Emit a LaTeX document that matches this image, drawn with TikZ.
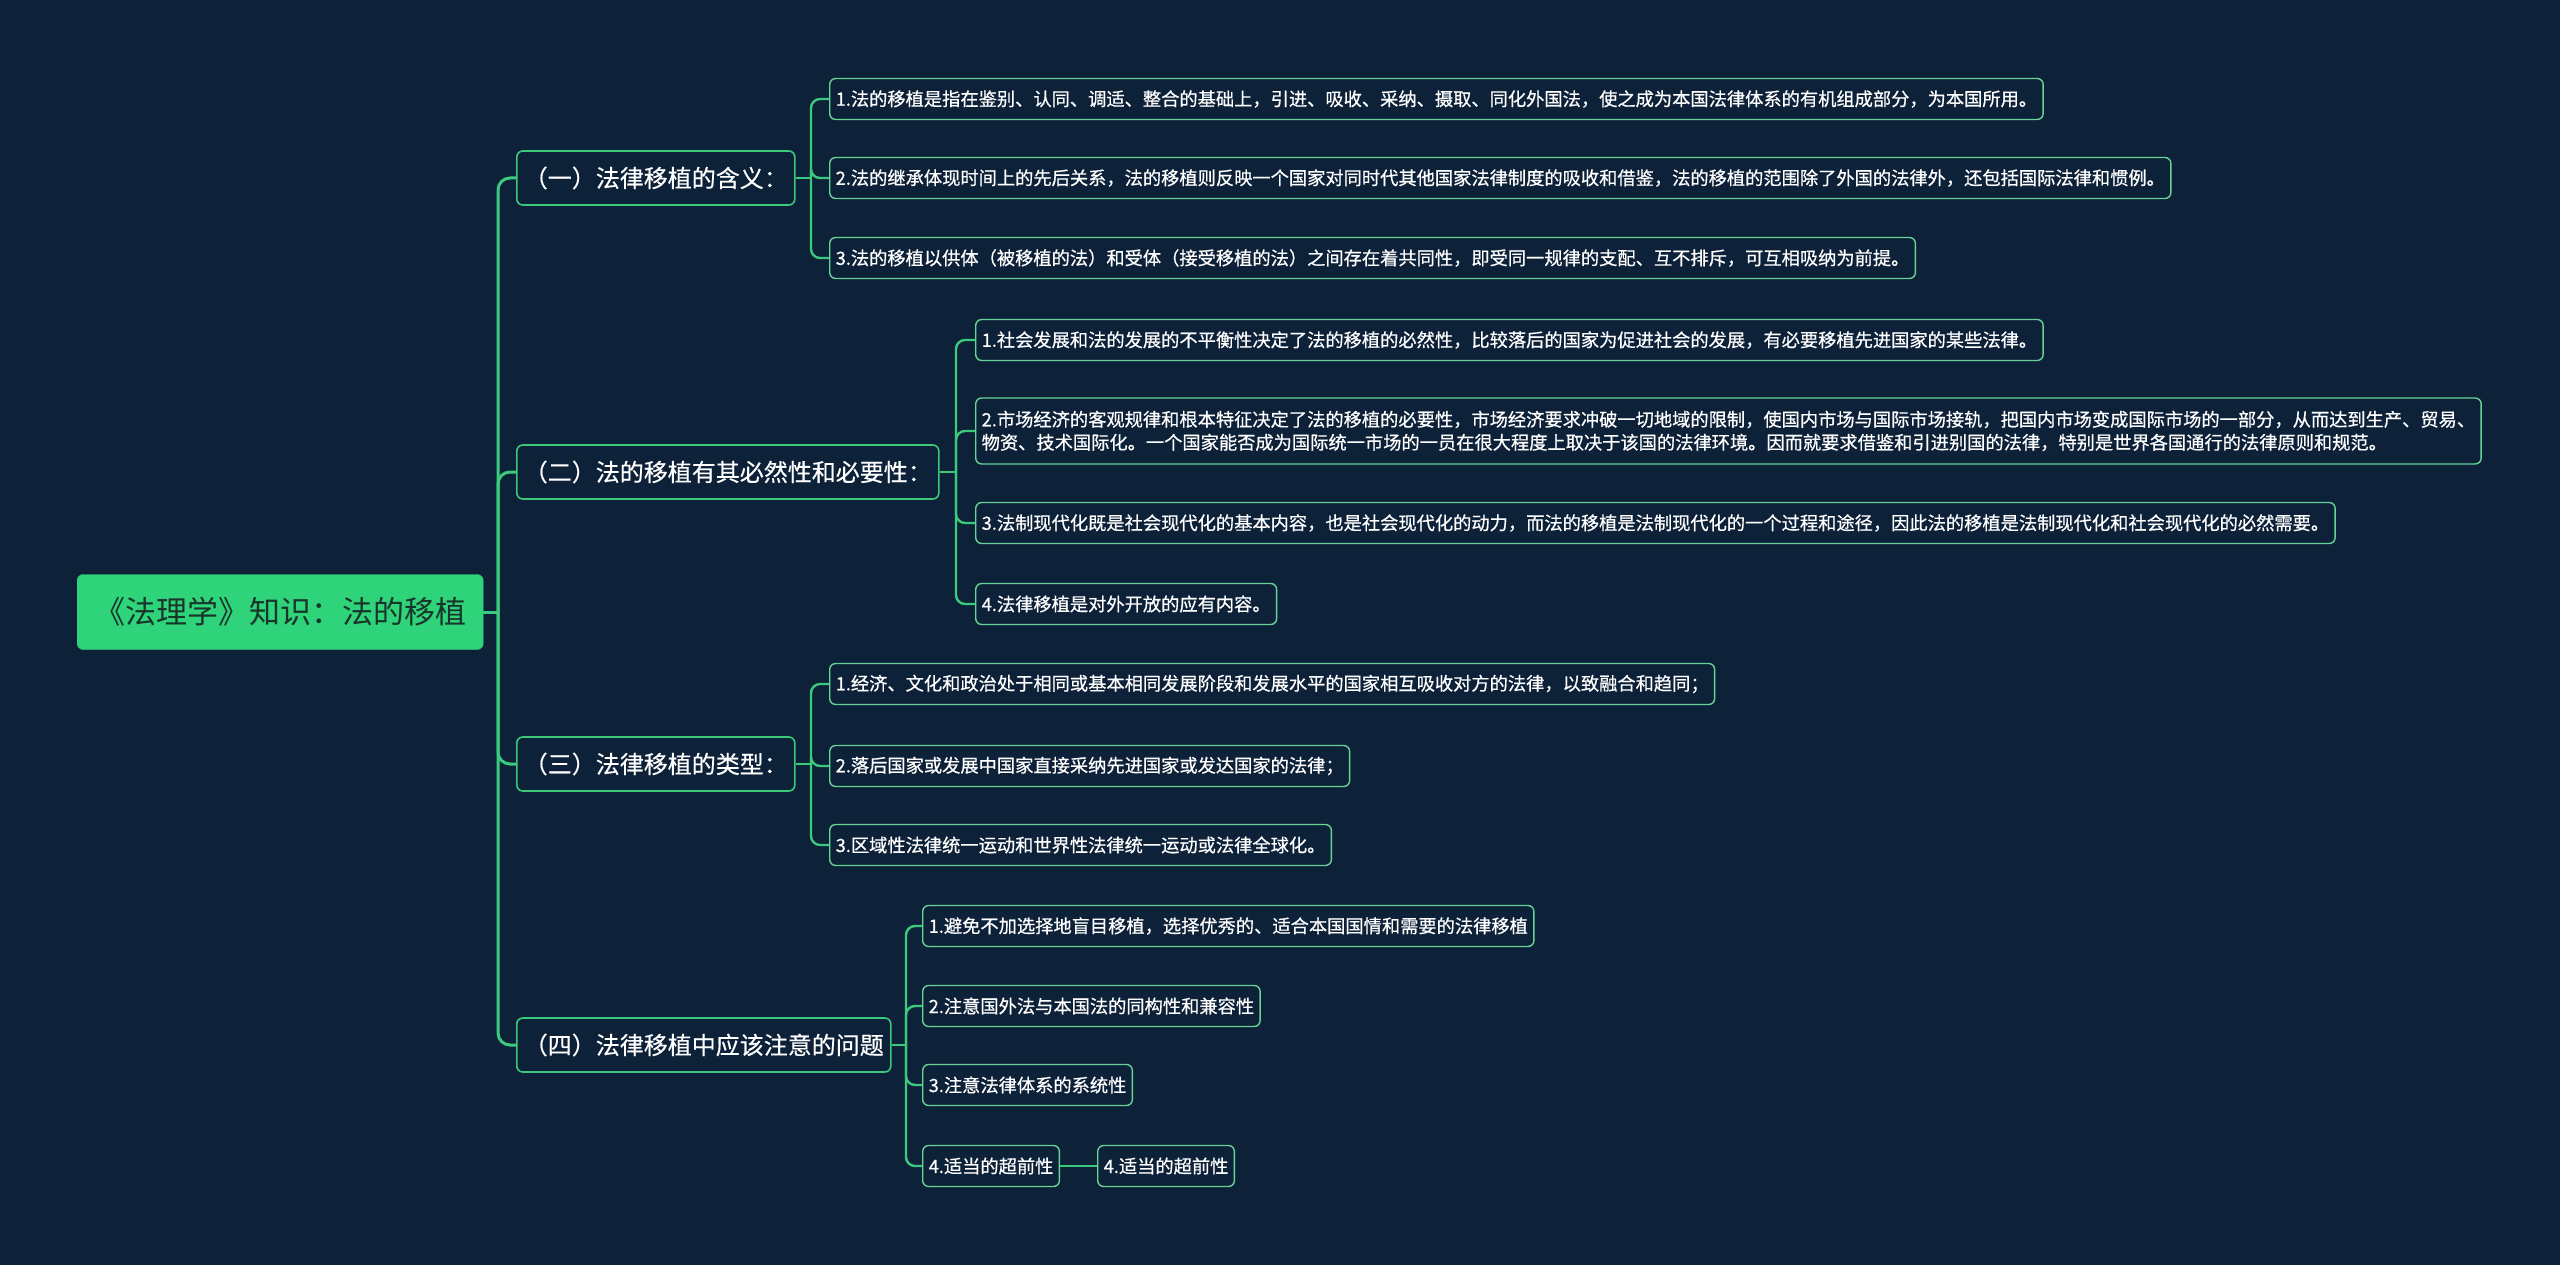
\documentclass[tikz,border=0pt]{standalone}
\usepackage{fontspec}
\setmainfont{Noto Sans CJK SC}
\definecolor{bg}{HTML}{0D2139}
\definecolor{rootg}{HTML}{2FD37A}
\definecolor{lineg}{HTML}{3BC97C}
\definecolor{boxg}{HTML}{66D494}
\definecolor{roottxt}{HTML}{17352A}
\tikzset{
  rootbox/.style={draw=rootg,fill=rootg,rounded corners=6pt,text=roottxt,
    font=\fontsize{31}{36}\selectfont,inner xsep=17pt,minimum height=75pt,anchor=west},
  lonebox/.style={draw=lineg,line width=1.6pt,fill=bg,rounded corners=6pt,text=white,
    font=\fontsize{24}{28}\selectfont\addfontfeatures{FakeBold=0.4},inner xsep=7pt,minimum height=54pt,anchor=west},
  ltwobox/.style={draw=boxg,line width=1.4pt,fill=bg,rounded corners=6pt,text=white,
    font=\fontsize{18.25}{23}\selectfont\addfontfeatures{FakeBold=0.6},inner xsep=6pt,minimum height=41pt,anchor=west,align=left},
  trunk/.style={draw=lineg,line width=3pt,rounded corners=12pt},
  twig/.style={draw=lineg,line width=2.4pt,rounded corners=9pt},
}
\begin{document}
\begin{tikzpicture}[x=1pt,y=-1pt]
\useasboundingbox[fill=bg] (0,0) rectangle (2560,1265);
\node[rootbox] (root) at (77,612) {《法理学》知识：法的移植};

\node[lonebox] (a) at (516,178) {（一）法律移植的含义：};
\node[lonebox] (b) at (516,472) {（二）法的移植有其必然性和必要性：};
\node[lonebox] (c) at (516,764) {（三）法律移植的类型：};
\node[lonebox] (d) at (516,1045) {（四）法律移植中应该注意的问题};

\node[ltwobox] (a1) at (829,99) {1.法的移植是指在鉴别、认同、调适、整合的基础上，引进、吸收、采纳、摄取、同化外国法，使之成为本国法律体系的有机组成部分，为本国所用。};
\node[ltwobox] (a2) at (829,178) {2.法的继承体现时间上的先后关系，法的移植则反映一个国家对同时代其他国家法律制度的吸收和借鉴，法的移植的范围除了外国的法律外，还包括国际法律和惯例。};
\node[ltwobox] (a3) at (829,258) {3.法的移植以供体（被移植的法）和受体（接受移植的法）之间存在着共同性，即受同一规律的支配、互不排斥，可互相吸纳为前提。};

\node[ltwobox] (b1) at (975,340) {1.社会发展和法的发展的不平衡性决定了法的移植的必然性，比较落后的国家为促进社会的发展，有必要移植先进国家的某些法律。};
\node[ltwobox,minimum height=66pt] (b2) at (975,431) {2.市场经济的客观规律和根本特征决定了法的移植的必要性，市场经济要求冲破一切地域的限制，使国内市场与国际市场接轨，把国内市场变成国际市场的一部分，从而达到生产、贸易、\\物资、技术国际化。一个国家能否成为国际统一市场的一员在很大程度上取决于该国的法律环境。因而就要求借鉴和引进别国的法律，特别是世界各国通行的法律原则和规范。};
\node[ltwobox] (b3) at (975,523) {3.法制现代化既是社会现代化的基本内容，也是社会现代化的动力，而法的移植是法制现代化的一个过程和途径，因此法的移植是法制现代化和社会现代化的必然需要。};
\node[ltwobox] (b4) at (975,604) {4.法律移植是对外开放的应有内容。};

\node[ltwobox] (c1) at (829,684) {1.经济、文化和政治处于相同或基本相同发展阶段和发展水平的国家相互吸收对方的法律，以致融合和趋同；};
\node[ltwobox] (c2) at (829,766) {2.落后国家或发展中国家直接采纳先进国家或发达国家的法律；};
\node[ltwobox] (c3) at (829,845) {3.区域性法律统一运动和世界性法律统一运动或法律全球化。};

\node[ltwobox] (d1) at (922,926) {1.避免不加选择地盲目移植，选择优秀的、适合本国国情和需要的法律移植};
\node[ltwobox] (d2) at (922,1006) {2.注意国外法与本国法的同构性和兼容性};
\node[ltwobox] (d3) at (922,1085) {3.注意法律体系的系统性};
\node[ltwobox] (d4) at (922,1166) {4.适当的超前性};
\node[ltwobox] (d4a) at (1097,1166) {4.适当的超前性};

\coordinate (jr) at (498,612);
\coordinate (ja) at (811,178);
\coordinate (jb) at (956,472);
\coordinate (jc) at (811,764);
\coordinate (jd) at (906,1045);
\draw[trunk] (root.east) -- (jr);
\foreach \n in {a,b,c,d} \draw[trunk] (jr) |- (\n.west);
\draw[twig] (a.east) -- (ja);
\foreach \n in {a1,a2,a3} \draw[twig] (ja) |- (\n.west);
\draw[twig] (b.east) -- (jb);
\foreach \n in {b1,b2,b3,b4} \draw[twig] (jb) |- (\n.west);
\draw[twig] (c.east) -- (jc);
\foreach \n in {c1,c2,c3} \draw[twig] (jc) |- (\n.west);
\draw[twig] (d.east) -- (jd);
\foreach \n in {d1,d2,d3,d4} \draw[twig] (jd) |- (\n.west);
\draw[twig] (d4.east) -- (d4a.west);
\end{tikzpicture}
\end{document}
